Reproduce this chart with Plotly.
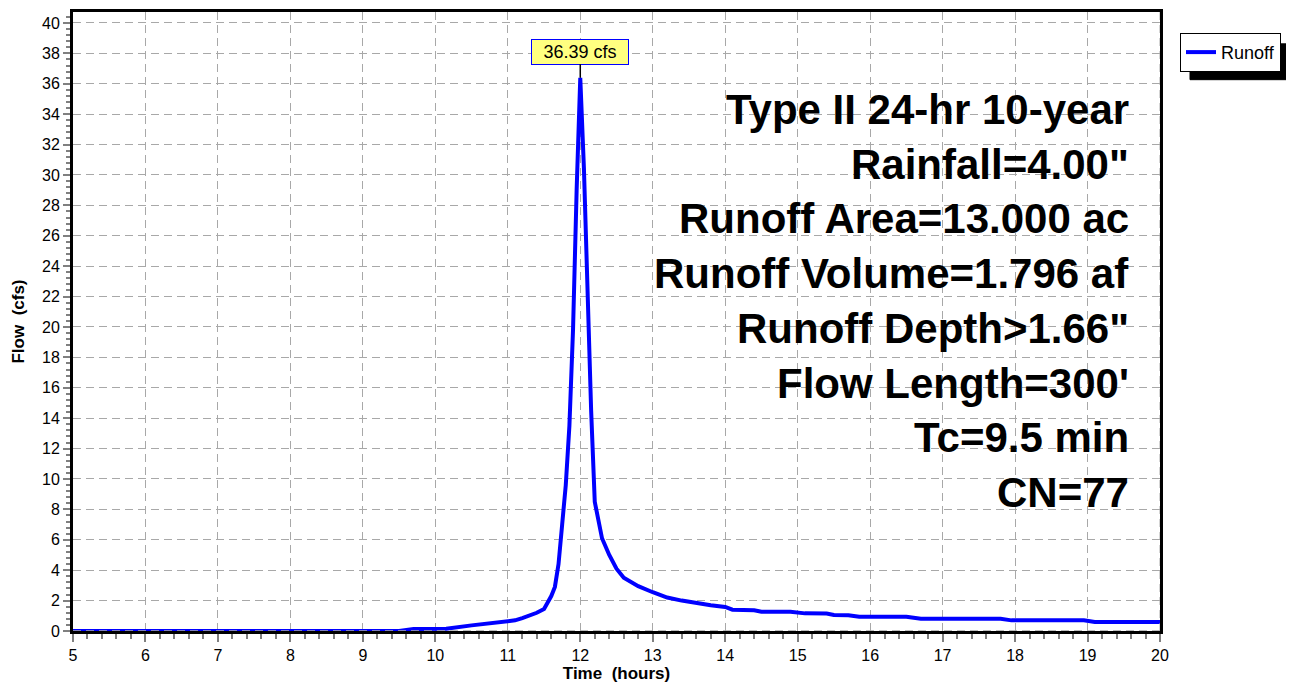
import plotly.graph_objects as go

# ---- data ----
time_hr = [5.0, 9.50, 9.70, 10.15, 10.50, 10.80, 11.10, 11.20, 11.30, 11.40, 11.50,
           11.60, 11.65, 11.70, 11.75, 11.80, 11.85, 11.90, 11.95, 12.00,
           12.05, 12.10, 12.15, 12.20, 12.30, 12.40, 12.50, 12.60, 12.70, 12.80,
           13.00, 13.10, 13.20, 13.40, 13.60, 13.80, 14.00, 14.10, 14.40, 14.50,
           14.90, 15.10, 15.40, 15.50, 15.70, 15.85, 16.50, 16.70, 17.80, 17.95,
           18.95, 19.10, 20.00]
flow_cfs = [0.0, 0.0, 0.13, 0.15, 0.37, 0.55, 0.70, 0.85, 1.00, 1.20, 1.45,
            2.30, 2.90, 4.40, 7.00, 9.60, 13.50, 19.80, 29.00, 36.39,
            30.50, 22.00, 14.50, 8.50, 6.10, 5.00, 4.10, 3.50, 3.20, 2.95,
            2.55, 2.36, 2.20, 2.00, 1.82, 1.70, 1.58, 1.40, 1.37, 1.27,
            1.26, 1.16, 1.15, 1.05, 1.04, 0.94, 0.94, 0.80, 0.80, 0.70,
            0.70, 0.59, 0.59]
series_name = "Runoff"
peak_time = 12.00
peak_flow = 36.39
peak_label = "36.39 cfs"
info_lines = [
    "Type II 24-hr 10-year",
    "Rainfall=4.00\"",
    "Runoff Area=13.000 ac",
    "Runoff Volume=1.796 af",
    "Runoff Depth>1.66\"",
    "Flow Length=300'",
    "Tc=9.5 min",
    "CN=77",
]
x_title = "Time  (hours)"
y_title = "Flow  (cfs)"
x_range = [5, 20]
y_range = [0, 40.72]

FONT = "Arial, Liberation Sans, sans-serif"
# the page body has an 8px margin, so the figure starts at (8, 8) on screen
OFF = 8
W, H = 1294 - OFF, 686 - OFF
ML, MR, MT, MB = 65, 134, 1, 55
PW, PH = W - ML - MR, H - MT - MB


def px_x(px):  # screen x -> paper x
    return (px - OFF - ML) / PW


def px_y(py):  # screen y -> paper y
    return (H - MB - (py - OFF)) / PH


GRID_COLOR = "#a8a8a8"
GRID_DASH = "8px,5px"

fig = go.Figure()
fig.add_trace(go.Scatter(
    x=time_hr, y=flow_cfs, mode="lines", name=series_name,
    line=dict(color="#0000ff", width=4),
    showlegend=True,
))

grid = dict(gridcolor=GRID_COLOR, gridwidth=1, griddash=GRID_DASH)

fig.update_xaxes(
    range=x_range, dtick=1, tick0=5,
    showline=True, linecolor="black", linewidth=3, mirror=True,
    ticks="outside", ticklen=8, tickcolor="#808080", tickwidth=2,
    minor=dict(dtick=0.2, ticks="outside", ticklen=5, tickcolor="#808080", tickwidth=2, showgrid=False),
    zeroline=False, showgrid=True, **grid,
    tickfont=dict(family=FONT, size=16, color="black"),
    title=dict(text="<b>" + x_title + "</b>", font=dict(family=FONT, size=17, color="black"), standoff=4),
)
fig.update_yaxes(
    range=y_range, dtick=2, tick0=0,
    showline=True, linecolor="black", linewidth=3, mirror=True,
    ticks="outside", ticklen=7, tickcolor="#808080", tickwidth=2,
    minor=dict(dtick=0.4, ticks="outside", ticklen=4, tickcolor="#808080", tickwidth=2, showgrid=False),
    zeroline=False, showgrid=True, **grid,
    tickfont=dict(family=FONT, size=16, color="black"),
    title=dict(text="<b>" + y_title + "</b>", font=dict(family=FONT, size=17, color="black"), standoff=14),
)

annotations = []
for i, line in enumerate(info_lines):
    cy = 107 + 55 * i
    annotations.append(dict(
        text="<b>" + line.replace(">", "&gt;") + "</b>",
        xref="paper", yref="paper", x=px_x(1131), y=px_y(cy),
        xanchor="right", yanchor="middle", showarrow=False,
        font=dict(family=FONT, size=42, color="black"),
    ))

annotations.append(dict(
    text=peak_label, x=peak_time, y=peak_flow, xref="x", yref="y",
    showarrow=True, arrowhead=0, arrowwidth=1.5, arrowcolor="black",
    ax=0, ay=-26, standoff=0,
    bgcolor="#ffff80", bordercolor="#0000ff", borderwidth=1, borderpad=0,
    width=96, height=24,
    font=dict(family=FONT, size=18, color="black"),
))

shapes = [
    # legend drop shadow (drawn beneath the legend box)
    dict(type="rect", xref="paper", yref="paper",
         x0=px_x(1190), x1=px_x(1287), y0=px_y(77), y1=px_y(41),
         fillcolor="black", line=dict(color="black", width=1), layer="above"),
    # dashed grid lines showing over the bottom and right frame lines
    dict(type="line", xref="x", yref="y", x0=x_range[0], x1=x_range[1], y0=0, y1=0,
         line=dict(color=GRID_COLOR, width=1.5, dash=GRID_DASH), layer="above"),
    dict(type="line", xref="x", yref="y", x0=x_range[1], x1=x_range[1], y0=y_range[0], y1=y_range[1],
         line=dict(color=GRID_COLOR, width=1, dash=GRID_DASH), layer="above"),
]

fig.update_layout(
    width=W, height=H,
    margin=dict(l=ML, r=MR, t=MT, b=MB),
    paper_bgcolor="white", plot_bgcolor="white",
    font=dict(family=FONT, color="black"),
    showlegend=True,
    legend=dict(
        x=px_x(1281), y=px_y(30), xanchor="right", yanchor="top",
        bgcolor="white", bordercolor="black", borderwidth=1,
        font=dict(family=FONT, size=18, color="black"),
        itemwidth=30, tracegroupgap=0,
    ),
    annotations=annotations,
    shapes=shapes,
)

fig.write_html("out.html")
